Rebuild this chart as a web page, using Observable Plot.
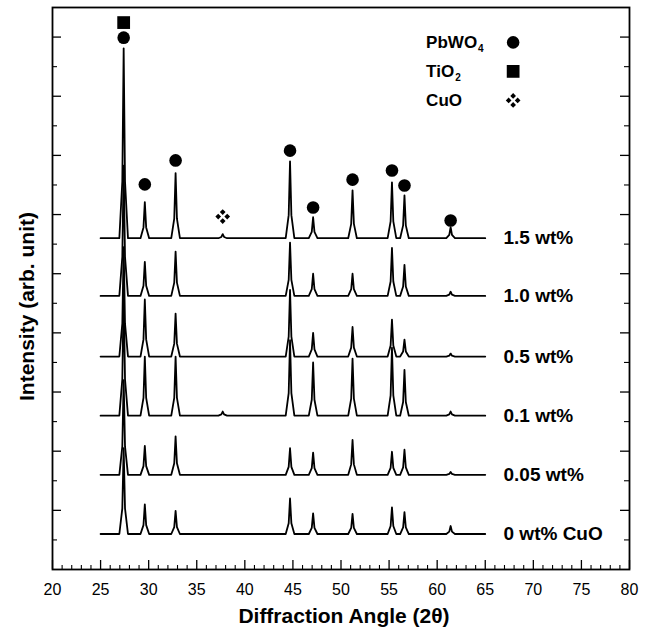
<!DOCTYPE html>
<html><head><meta charset="utf-8">
<script src="https://cdn.jsdelivr.net/npm/d3@7"></script>
<script src="https://cdn.jsdelivr.net/npm/@observablehq/plot@0.6"></script>
<style>body{margin:0;background:#fff;} svg{display:block;}</style>
</head><body><div id="chart"></div>
<script>
// ---- data ----
const samples = ["0 wt% CuO", "0.05 wt%", "0.1 wt%", "0.5 wt%", "1.0 wt%", "1.5 wt%"];
const baselines = [1.2, 3.2, 5.2, 7.2, 9.25, 11.2];
const peakAngles = [27.4, 29.6, 32.8, 37.7, 44.7, 47.1, 51.2, 55.3, 56.6, 61.4];
const h0   = [2.9, 1.0, 0.78, 0, 1.2, 0.7, 0.68, 0.9, 0.74, 0.27];
const h005 = [3.2, 0.98, 1.3, 0, 0.9, 0.75, 1.18, 0.78, 0.85, 0.1];
const h01  = [4.1, 2.0, 2.0, 0.14, 2.55, 1.8, 1.93, 2.3, 1.55, 0.14];
const h05  = [3.7, 1.93, 1.45, 0, 2.25, 0.8, 1.0, 1.25, 0.57, 0.1];
const h10  = [4.4, 1.15, 1.5, 0, 1.8, 0.75, 0.75, 1.62, 1.05, 0.14];
const h15  = [6.42, 1.22, 2.2, 0.14, 2.6, 0.71, 1.62, 1.89, 1.45, 0.37];
const scanStart = 25, scanEnd = 65;

const markerAngles = [27.4, 27.4, 29.6, 32.8, 37.7, 44.7, 47.1, 51.2, 55.3, 56.6, 61.4];
const markerPhases = ["TiO2", "PbWO4", "PbWO4", "PbWO4", "CuO", "PbWO4", "PbWO4", "PbWO4", "PbWO4", "PbWO4", "PbWO4"];
const markerLevels = [18.49, 17.98, 13.02, 13.83, 11.93, 14.16, 12.24, 13.18, 13.49, 12.98, 11.80];

const legendNames = ["PbWO", "TiO", "CuO"];
const legendSubs = ["4", "2", ""];
const legendPhases = ["PbWO4", "TiO2", "CuO"];

const xMajor = [20, 25, 30, 35, 40, 45, 50, 55, 60, 65, 70, 75, 80];
const xMinor = d3.range(21, 80).filter(v => v % 5 !== 0);
const yMajor = [2, 4, 6, 8, 10, 12, 14, 16, 18];
const yMinor = [1, 3, 5, 7, 9, 11, 13, 15, 17];

// ---- build trace table ----
const heights = [h0, h005, h01, h05, h10, h15];
const trace = [];
samples.forEach((s, i) => {
  const b = baselines[i];
  trace.push({sample: s, x: scanStart, y: b});
  peakAngles.forEach((c, j) => {
    const h = heights[i][j];
    if (h <= 0) return;
    trace.push({sample: s, x: c - 0.45, y: b});
    trace.push({sample: s, x: c - 0.14, y: b + 0.3 * h});
    trace.push({sample: s, x: c, y: b + h});
    trace.push({sample: s, x: c + 0.14, y: b + 0.3 * h});
    trace.push({sample: s, x: c + 0.45, y: b});
  });
  trace.push({sample: s, x: scanEnd, y: b});
});
const markers = markerAngles.map((a, i) => ({x: a, y: markerLevels[i], phase: markerPhases[i]}));
const legend = legendNames.map((n, i) => ({name: n, sub: legendSubs[i], phase: legendPhases[i], i}));

const cuoSymbol = {
  draw(ctx, size) {
    const r = Math.sqrt(size / Math.PI);
    const o = 0.6 * r, s = 0.38 * r;
    for (const [cx, cy] of [[0, -o], [o, 0], [0, o], [-o, 0]]) {
      ctx.moveTo(cx, cy - s); ctx.lineTo(cx + s, cy); ctx.lineTo(cx, cy + s); ctx.lineTo(cx - s, cy); ctx.closePath();
    }
  }
};

const FONT = "Liberation Sans, Arial, Helvetica, sans-serif";
const W = 653, H = 636, mL = 52, mR = 24, mT = 7, mB = 67;
const innerW = W - mL - mR, innerH = H - mT - mB;

const cv = document.createElement("canvas").getContext("2d");
cv.font = `bold 17px ${FONT}`;
const legendX = 58.85, legendSymX = 67.9;
const legendY = i => 17.82 - i * 0.98;

const symbolFor = p => p === "PbWO4" ? "circle" : p === "TiO2" ? "square" : cuoSymbol;
const rFor = p => p === "PbWO4" ? 6.3 : p === "TiO2" ? 7.2 : 7.5;

const marks = [
  Plot.frame({stroke: "black", strokeWidth: 1.8}),
  Plot.tickX(xMajor, {x: d => d, insetTop: innerH - 9, stroke: "black", strokeWidth: 1.3}),
  Plot.tickX(xMinor, {x: d => d, insetTop: innerH - 4, stroke: "black", strokeWidth: 1.1}),
  Plot.tickY(yMajor, {y: d => d, insetRight: innerW - 9, stroke: "black", strokeWidth: 1.3}),
  Plot.tickY(yMinor, {y: d => d, insetRight: innerW - 5, stroke: "black", strokeWidth: 1.1}),
  Plot.tickY(yMajor, {y: d => d, insetLeft: innerW - 9, stroke: "black", strokeWidth: 1.3}),
  Plot.tickY(yMinor, {y: d => d, insetLeft: innerW - 5, stroke: "black", strokeWidth: 1.1}),
  Plot.text(xMajor, {x: d => d, text: d => String(d), frameAnchor: "bottom", lineAnchor: "middle", dy: 20, fontSize: 16, fontFamily: FONT, fill: "black"}),
  Plot.text(["Diffraction Angle (2θ)"], {frameAnchor: "bottom", lineAnchor: "middle", textAnchor: "middle", dy: 47, dx: 3, fontSize: 21, fontWeight: "bold", fontFamily: FONT, fill: "black"}),
  Plot.text(["Intensity (arb. unit)"], {frameAnchor: "left", textAnchor: "middle", lineAnchor: "middle", rotate: -90, dx: -25, dy: 18, fontSize: 21, fontWeight: "bold", fontFamily: FONT, fill: "black"}),
  Plot.line(trace, {x: "x", y: "y", z: "sample", stroke: "black", strokeWidth: 1.8, strokeLinejoin: "round"}),
  Plot.text(samples, {x: () => 66.9, y: (d, i) => baselines[i], text: d => d, textAnchor: "start", fontSize: 19, fontWeight: "bold", fontFamily: FONT, fill: "black"}),
  ...["PbWO4", "TiO2", "CuO"].map(p =>
    Plot.dot(markers.filter(m => m.phase === p), {x: "x", y: "y", symbol: symbolFor(p), r: rFor(p), fill: "black", stroke: "none"})),
  Plot.text(legend, {x: () => legendX, y: d => legendY(d.i), text: "name", textAnchor: "start", fontSize: 17, fontWeight: "bold", fontFamily: FONT, fill: "black"}),
  ...legend.filter(d => d.sub).map(d =>
    Plot.text([d], {x: () => legendX, y: () => legendY(d.i), text: "sub", textAnchor: "start", dx: cv.measureText(d.name).width + 1, dy: 6, fontSize: 10, fontWeight: "bold", fontFamily: FONT, fill: "black"})),
  ...legend.map(d =>
    Plot.dot([d], {x: () => legendSymX, y: () => legendY(d.i), symbol: symbolFor(d.phase), r: rFor(d.phase), fill: "black", stroke: "none"}))
];

const chart = Plot.plot({
  width: W, height: H,
  marginLeft: mL, marginRight: mR, marginTop: mT, marginBottom: mB,
  style: {fontFamily: FONT, background: "white", color: "black"},
  x: {domain: [20, 80], axis: null},
  y: {domain: [0, 19], axis: null},
  marks
});
document.getElementById("chart").appendChild(chart);
</script>
</body></html>
